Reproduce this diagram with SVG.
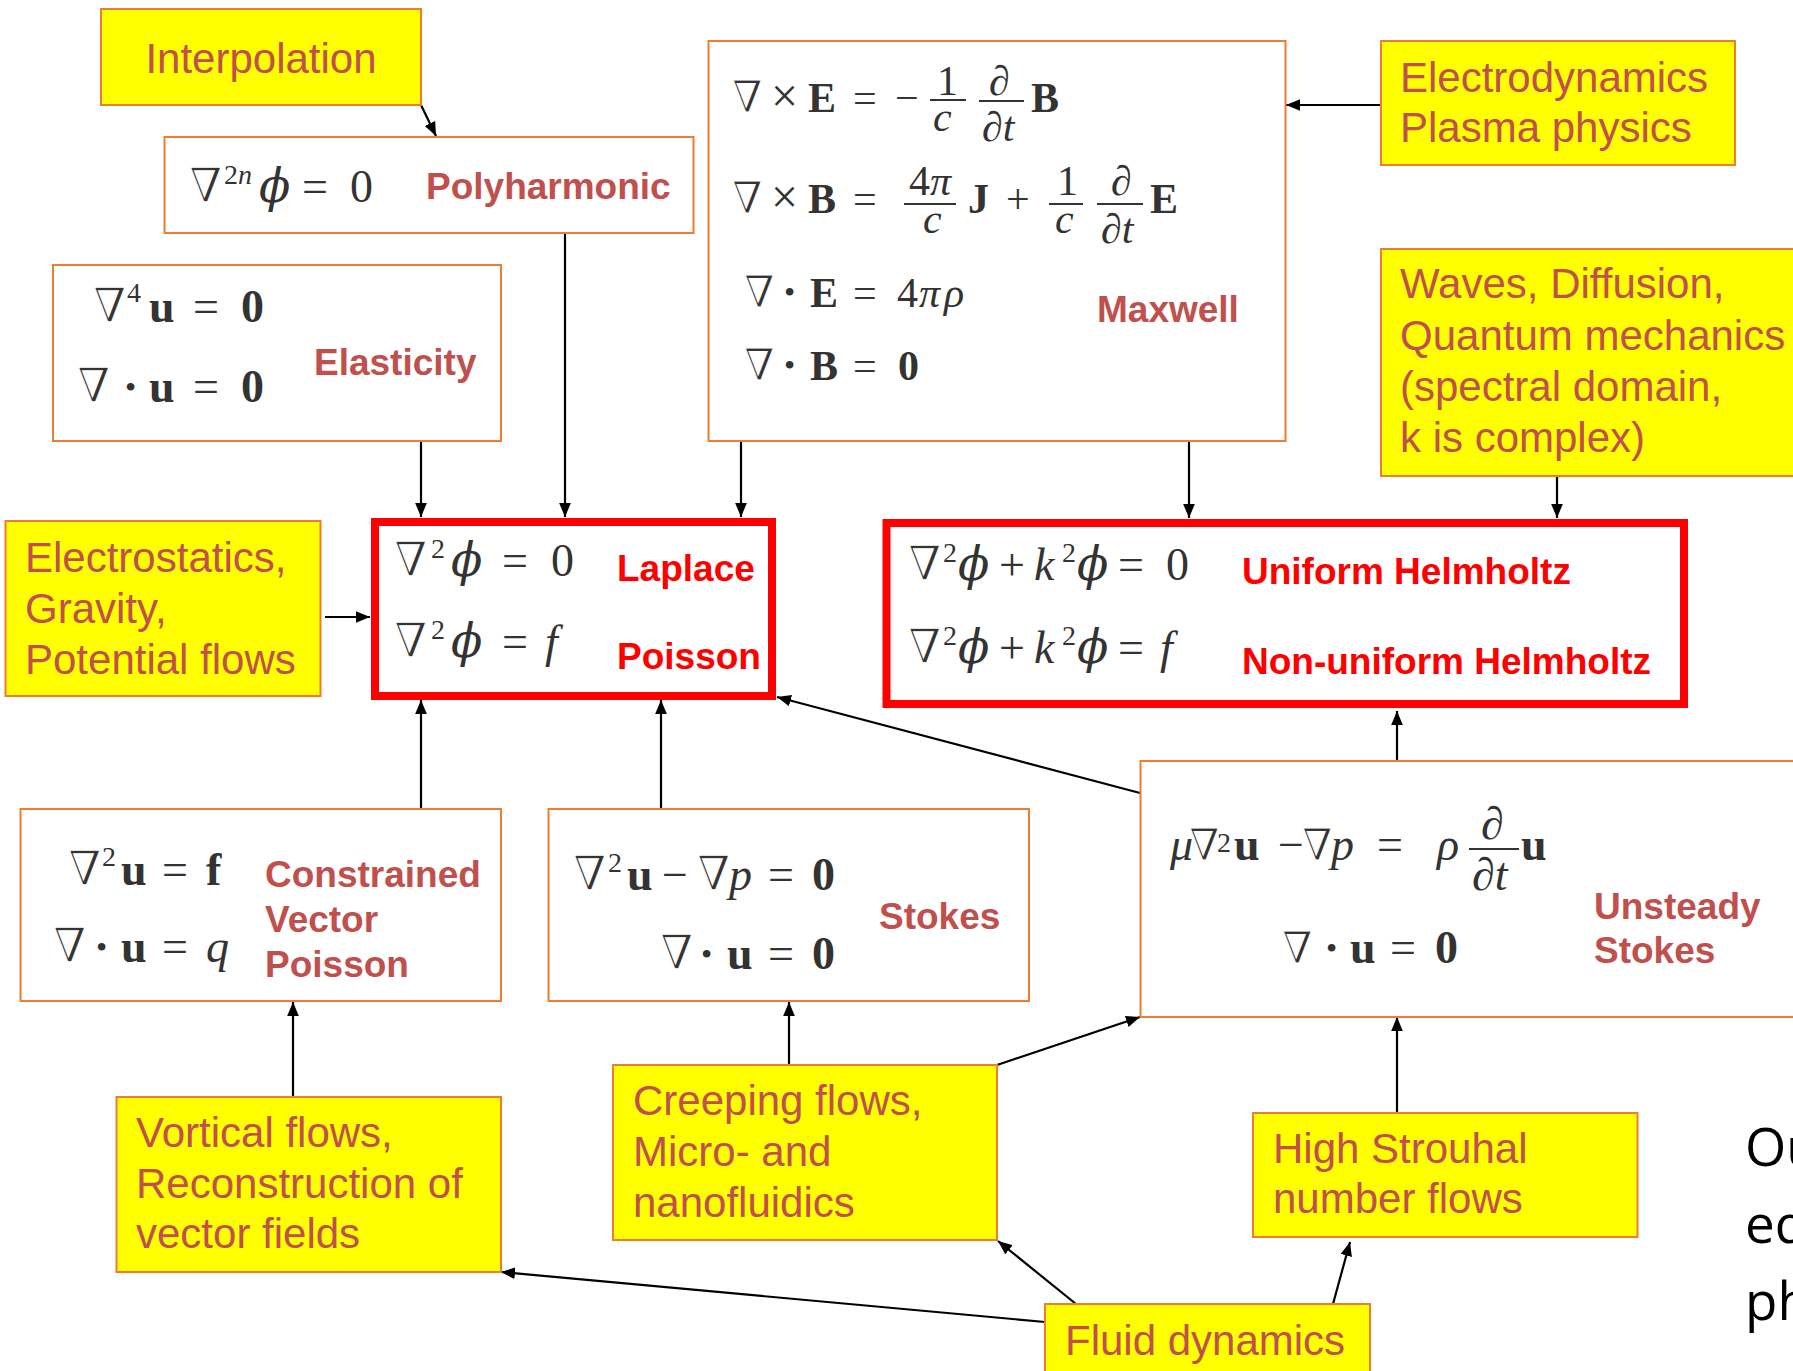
<svg xmlns="http://www.w3.org/2000/svg" width="1793" height="1371" viewBox="0 0 1793 1371">
<defs>
<style>
.yb{fill:#ffff00;stroke:#ed7d31;stroke-width:2}
.wb{fill:#ffffff;stroke:#ed7d31;stroke-width:2}
.rb{fill:#ffffff;stroke:#ff0000;stroke-width:8}
.yt{font-family:"Liberation Sans",Arial,sans-serif;font-size:42px;fill:#c0504d}
.lb{font-family:"Liberation Sans",Arial,sans-serif;font-size:37px;font-weight:bold;fill:#c0504d}
.lr{font-family:"Liberation Sans",Arial,sans-serif;font-size:37px;font-weight:bold;fill:#ff0000}
.m{font-family:"Liberation Serif","DejaVu Serif",serif;font-size:46px;fill:#333333}
.mx{font-size:42px}
.i{font-style:italic}
.b{font-weight:bold}
.nb{font-family:"DejaVu Serif",serif;font-size:48px;stroke:#ffffff;stroke-width:1.3}
.nm{font-family:"DejaVu Serif",serif;font-size:44px;stroke:#ffffff;stroke-width:1.2}
.ph{font-family:"DejaVu Serif",serif;font-style:italic}
.sp{font-size:28px}
.dt{font-size:32px}
.bar{stroke:#333333;stroke-width:2}
.c{fill:none;stroke:#000000;stroke-width:2.2}
.bk{font-family:"Open Sans","Liberation Sans",sans-serif;font-size:53px;fill:#000000}
</style>
<marker id="ah" viewBox="0 0 12 10" refX="12" refY="5" markerWidth="14" markerHeight="12" markerUnits="userSpaceOnUse" orient="auto"><path d="M0,0 L12,5 L0,10 z" fill="#000000"/></marker>
</defs>
<rect width="1793" height="1371" fill="#ffffff"/>

<g id="connectors">
<line class="c" x1="421" y1="105" x2="436" y2="136" marker-end="url(#ah)"/>
<line class="c" x1="565" y1="233" x2="565" y2="517" marker-end="url(#ah)"/>
<line class="c" x1="421" y1="441" x2="421" y2="517" marker-end="url(#ah)"/>
<line class="c" x1="741" y1="441" x2="741" y2="517" marker-end="url(#ah)"/>
<line class="c" x1="1189" y1="441" x2="1189" y2="518" marker-end="url(#ah)"/>
<line class="c" x1="1557" y1="476" x2="1557" y2="518" marker-end="url(#ah)"/>
<line class="c" x1="1381" y1="105" x2="1286" y2="105" marker-end="url(#ah)"/>
<line class="c" x1="325" y1="617" x2="370" y2="617" marker-end="url(#ah)"/>
<line class="c" x1="421" y1="809" x2="421" y2="700" marker-end="url(#ah)"/>
<line class="c" x1="661" y1="809" x2="661" y2="700" marker-end="url(#ah)"/>
<line class="c" x1="1140" y1="793" x2="777" y2="697" marker-end="url(#ah)"/>
<line class="c" x1="1397" y1="761" x2="1397" y2="711" marker-end="url(#ah)"/>
<line class="c" x1="293" y1="1097" x2="293" y2="1002" marker-end="url(#ah)"/>
<line class="c" x1="789" y1="1065" x2="789" y2="1002" marker-end="url(#ah)"/>
<line class="c" x1="997" y1="1065" x2="1140" y2="1017" marker-end="url(#ah)"/>
<line class="c" x1="1397" y1="1113" x2="1397" y2="1017" marker-end="url(#ah)"/>
<line class="c" x1="1045" y1="1322" x2="501" y2="1272" marker-end="url(#ah)"/>
<line class="c" x1="1076" y1="1304" x2="998" y2="1241" marker-end="url(#ah)"/>
<line class="c" x1="1333" y1="1304" x2="1350" y2="1242" marker-end="url(#ah)"/>
</g>

<g id="interpolation">
<rect class="yb" x="101" y="9" width="320" height="96"/>
<text class="yt" x="261" y="73" text-anchor="middle">Interpolation</text>
</g>

<g id="polyharmonic">
<rect class="wb" x="164.5" y="137" width="529" height="96"/>
<text class="m" y="202"><tspan class="nb" x="189">∇</tspan><tspan class="sp" x="224" y="184">2</tspan><tspan class="sp i" x="238" y="184">n</tspan><tspan class="ph" x="259" y="202">ϕ</tspan><tspan x="302">=</tspan><tspan x="350">0</tspan></text>
<text class="lb" x="426" y="199">Polyharmonic</text>
</g>

<g id="elasticity">
<rect class="wb" x="53" y="265" width="448" height="176"/>
<text class="m" y="322"><tspan class="nb" x="93">∇</tspan><tspan class="sp" x="127" y="302">4</tspan><tspan class="b" x="149" y="322">u</tspan><tspan x="193">=</tspan><tspan class="b" x="241">0</tspan></text>
<text class="m" y="402"><tspan class="nb" x="77">∇</tspan><tspan class="dt" x="125" y="398">•</tspan><tspan class="b" x="149" y="402">u</tspan><tspan x="193">=</tspan><tspan class="b" x="241">0</tspan></text>
<text class="lb" x="314" y="375">Elasticity</text>
</g>

<g id="maxwell">
<rect class="wb" x="708.5" y="41" width="577" height="400"/>
<text class="m mx" y="112"><tspan class="nm" x="732">∇</tspan><tspan font-size="48" x="771">×</tspan><tspan class="b" x="808">E</tspan><tspan x="853">=</tspan><tspan x="895">−</tspan><tspan x="937" y="95">1</tspan><tspan class="i" x="933" y="131">c</tspan><tspan class="i" x="989" y="95">∂</tspan><tspan class="i" x="982" y="141">∂t</tspan><tspan class="b" x="1031" y="112">B</tspan></text>
<line class="bar" x1="930" y1="100" x2="966" y2="100"/>
<line class="bar" x1="979" y1="101" x2="1024" y2="101"/>
<text class="m mx" y="213"><tspan class="nm" x="732">∇</tspan><tspan font-size="48" x="771">×</tspan><tspan class="b" x="808">B</tspan><tspan x="853">=</tspan><tspan x="909" y="195">4</tspan><tspan class="i" x="930" y="195">π</tspan><tspan class="i" x="923" y="233">c</tspan><tspan class="b" x="968" y="213">J</tspan><tspan x="1006">+</tspan><tspan x="1057" y="195">1</tspan><tspan class="i" x="1055" y="233">c</tspan><tspan class="i" x="1111" y="195">∂</tspan><tspan class="i" x="1101" y="243">∂t</tspan><tspan class="b" x="1150" y="213">E</tspan></text>
<line class="bar" x1="904" y1="204" x2="956" y2="204"/>
<line class="bar" x1="1049" y1="204" x2="1083" y2="204"/>
<line class="bar" x1="1097" y1="204" x2="1143" y2="204"/>
<text class="m mx" y="307"><tspan class="nm" x="744">∇</tspan><tspan class="dt" x="784" y="303">•</tspan><tspan class="b" x="810" y="307">E</tspan><tspan x="853">=</tspan><tspan x="897">4</tspan><tspan class="i" x="919">π</tspan><tspan class="i" x="944">ρ</tspan></text>
<text class="m mx" y="380"><tspan class="nm" x="744">∇</tspan><tspan class="dt" x="784" y="376">•</tspan><tspan class="b" x="810" y="380">B</tspan><tspan x="853">=</tspan><tspan class="b" x="898">0</tspan></text>
<text class="lb" x="1097" y="322">Maxwell</text>
</g>

<g id="electrodynamics">
<rect class="yb" x="1381" y="41" width="354" height="124"/>
<text class="yt" x="1400" y="92">Electrodynamics</text>
<text class="yt" x="1400" y="142">Plasma physics</text>
</g>

<g id="waves">
<rect class="yb" x="1381" y="249" width="430" height="227"/>
<text class="yt" x="1400" y="298">Waves, Diffusion,</text>
<text class="yt" x="1400" y="350">Quantum mechanics</text>
<text class="yt" x="1400" y="401">(spectral domain,</text>
<text class="yt" x="1400" y="452">k is complex)</text>
</g>

<g id="electrostatics">
<rect class="yb" x="5.5" y="521" width="315" height="175"/>
<text class="yt" x="25" y="572">Electrostatics,</text>
<text class="yt" x="25" y="623">Gravity,</text>
<text class="yt" x="25" y="674">Potential flows</text>
</g>

<g id="laplace-poisson">
<rect class="rb" x="375" y="522" width="397" height="174"/>
<text class="m" y="576"><tspan class="nb" x="394">∇</tspan><tspan class="sp" x="431" y="558">2</tspan><tspan class="ph" x="451" y="576">ϕ</tspan><tspan x="502">=</tspan><tspan x="551">0</tspan></text>
<text class="m" y="657"><tspan class="nb" x="394">∇</tspan><tspan class="sp" x="431" y="639">2</tspan><tspan class="ph" x="451" y="657">ϕ</tspan><tspan x="502">=</tspan><tspan class="i" x="545">f</tspan></text>
<text class="lr" x="617" y="581">Laplace</text>
<text class="lr" x="617" y="669">Poisson</text>
</g>

<g id="helmholtz">
<rect class="rb" x="886.5" y="523" width="797.5" height="181"/>
<text class="m" font-size="44" y="580"><tspan class="nb" x="908">∇</tspan><tspan class="sp" x="943" y="562">2</tspan><tspan class="ph" x="958" y="580">ϕ</tspan><tspan x="999">+</tspan><tspan class="i" x="1034">k</tspan><tspan class="sp" x="1062" y="562">2</tspan><tspan class="ph" x="1077" y="580">ϕ</tspan><tspan x="1118">=</tspan><tspan x="1166">0</tspan></text>
<text class="m" font-size="44" y="663"><tspan class="nb" x="908">∇</tspan><tspan class="sp" x="943" y="645">2</tspan><tspan class="ph" x="958" y="663">ϕ</tspan><tspan x="999">+</tspan><tspan class="i" x="1034">k</tspan><tspan class="sp" x="1062" y="645">2</tspan><tspan class="ph" x="1077" y="663">ϕ</tspan><tspan x="1118">=</tspan><tspan class="i" x="1160">f</tspan></text>
<text class="lr" x="1242" y="584">Uniform Helmholtz</text>
<text class="lr" x="1242" y="674">Non-uniform Helmholtz</text>
</g>

<g id="constrained-vector-poisson">
<rect class="wb" x="20.5" y="809" width="480.5" height="192"/>
<text class="m" y="885"><tspan class="nb" x="68">∇</tspan><tspan class="sp" x="102" y="866">2</tspan><tspan class="b" x="121" y="885">u</tspan><tspan x="162">=</tspan><tspan class="b" x="206">f</tspan></text>
<text class="m" y="962"><tspan class="nb" x="53">∇</tspan><tspan class="dt" x="96" y="958">•</tspan><tspan class="b" x="121" y="962">u</tspan><tspan x="162">=</tspan><tspan class="i" x="206">q</tspan></text>
<text class="lb" x="265" y="887">Constrained</text>
<text class="lb" x="265" y="932">Vector</text>
<text class="lb" x="265" y="977">Poisson</text>
</g>

<g id="stokes">
<rect class="wb" x="548.5" y="809" width="480.5" height="192"/>
<text class="m" y="890"><tspan class="nb" x="573">∇</tspan><tspan class="sp" x="608" y="872">2</tspan><tspan class="b" x="627" y="890">u</tspan><tspan x="662">−</tspan><tspan class="nb" x="697">∇</tspan><tspan class="i" x="729">p</tspan><tspan x="768">=</tspan><tspan class="b" x="812">0</tspan></text>
<text class="m" y="969"><tspan class="nb" x="660">∇</tspan><tspan class="dt" x="701" y="965">•</tspan><tspan class="b" x="727" y="969">u</tspan><tspan x="768">=</tspan><tspan class="b" x="812">0</tspan></text>
<text class="lb" x="879" y="929">Stokes</text>
</g>

<g id="unsteady-stokes">
<rect class="wb" x="1140.5" y="761" width="670" height="256"/>
<text class="m" font-size="43" y="860"><tspan class="i" x="1170">μ</tspan><tspan class="nm" x="1189">∇</tspan><tspan font-size="28" x="1217" y="852">2</tspan><tspan class="b" x="1234" y="860">u</tspan><tspan x="1278">−</tspan><tspan class="nm" x="1302">∇</tspan><tspan class="i" x="1331">p</tspan><tspan x="1377">=</tspan><tspan class="i" x="1437">ρ</tspan><tspan class="i" x="1481" y="839">∂</tspan><tspan class="i" x="1472" y="890">∂t</tspan><tspan class="b" x="1521" y="860">u</tspan></text>
<line class="bar" x1="1469" y1="849" x2="1519" y2="849"/>
<text class="m" font-size="43" y="963"><tspan class="nm" x="1282">∇</tspan><tspan class="dt" x="1326" y="959">•</tspan><tspan class="b" x="1350" y="963">u</tspan><tspan x="1390">=</tspan><tspan class="b" x="1435">0</tspan></text>
<text class="lb" x="1594" y="919">Unsteady</text>
<text class="lb" x="1594" y="963">Stokes</text>
</g>

<g id="vortical">
<rect class="yb" x="116.5" y="1097" width="384.5" height="175"/>
<text class="yt" x="136" y="1147">Vortical flows,</text>
<text class="yt" x="136" y="1198">Reconstruction of</text>
<text class="yt" x="136" y="1248">vector fields</text>
</g>

<g id="creeping">
<rect class="yb" x="613" y="1065" width="384" height="175"/>
<text class="yt" x="633" y="1115">Creeping flows,</text>
<text class="yt" x="633" y="1166">Micro- and</text>
<text class="yt" x="633" y="1217">nanofluidics</text>
</g>

<g id="high-strouhal">
<rect class="yb" x="1253" y="1113" width="384.5" height="124"/>
<text class="yt" x="1273" y="1163">High Strouhal</text>
<text class="yt" x="1273" y="1213">number flows</text>
</g>

<g id="fluid-dynamics">
<rect class="yb" x="1045" y="1304" width="325" height="80"/>
<text class="yt" x="1065" y="1355">Fluid dynamics</text>
</g>

<g id="side-text">
<text class="bk" x="1745" y="1166">Ou</text>
<text class="bk" x="1745" y="1243">eq</text>
<text class="bk" x="1745" y="1320">ph</text>
</g>
</svg>
